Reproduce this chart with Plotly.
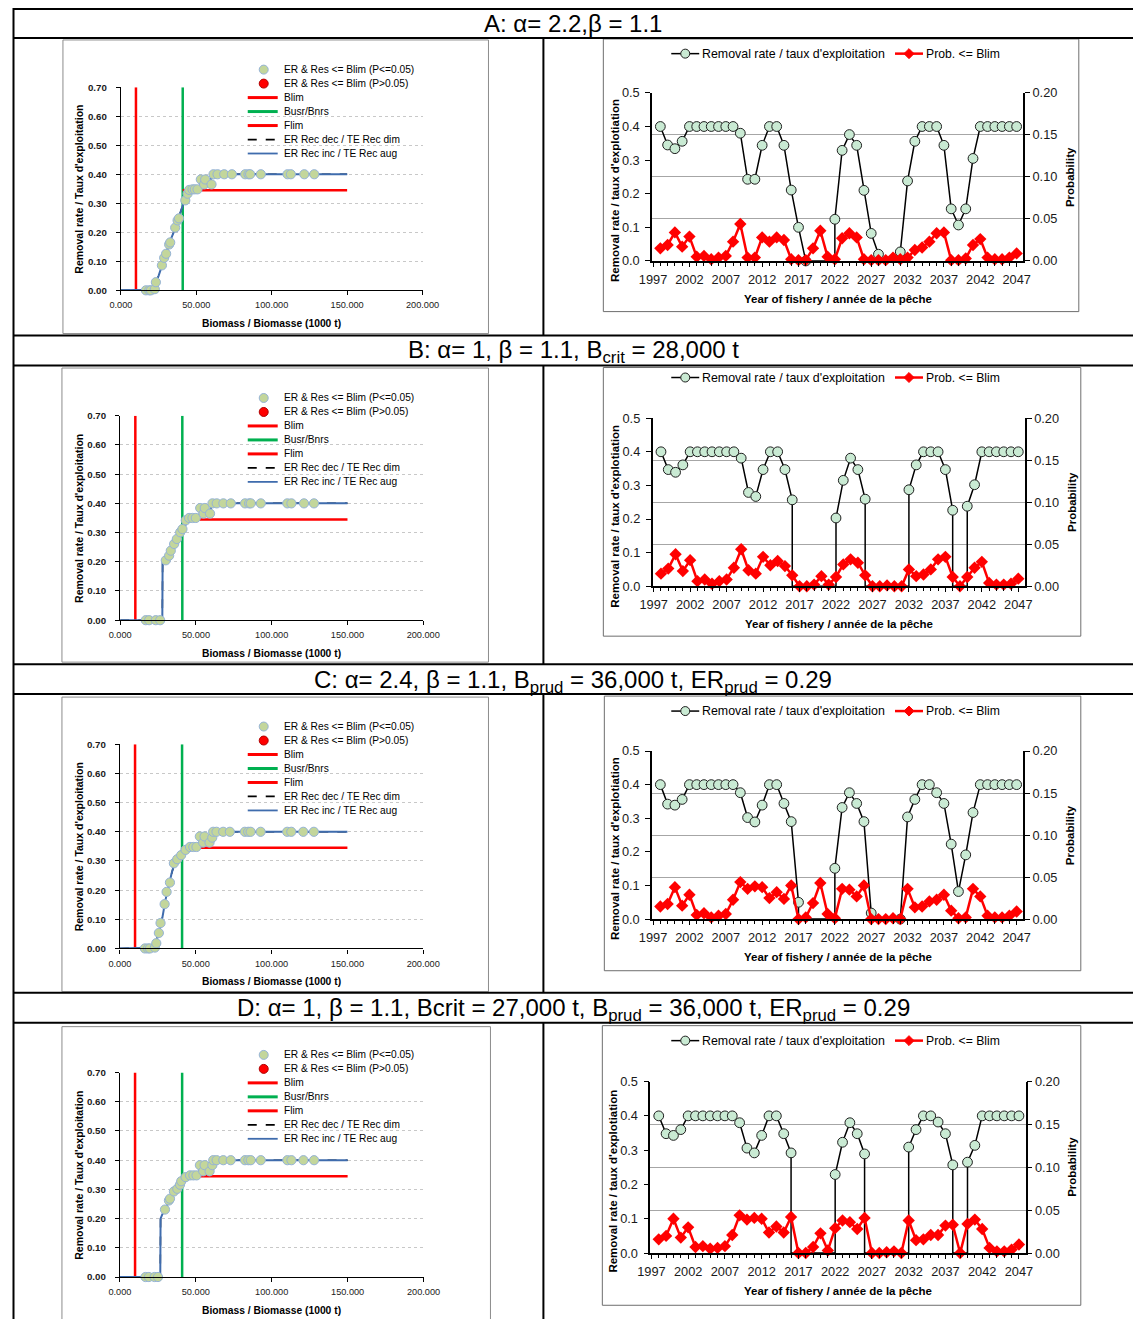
import plotly.graph_objects as go

# Layout positions below are page pixels; they are converted to figure pixels
# through the page origin/scale of the rendered figure.
ORIGIN_X, SCALE_X = 12.0, 0.975
ORIGIN_Y, SCALE_Y = 6.0, 0.99
W, H = 1150, 1326
PAGE_W, PAGE_H = 1133, 1319

# ---------------------------------------------------------------- data
YEARS = list(range(1998, 2048))          # fishery years shown in the time series

BLIM = 10.0          # limit reference point (1000 t)
BUSR = 41.0          # upper stock reference (1000 t)
FLIM = 0.345         # limit removal rate
RULE_END = 150.0     # biomass where the rule lines stop (1000 t)

# Harvest control rule curves: biomass (1000 t) -> removal rate
hcr_a_b = [0, 17, 19, 21, 23, 25, 27, 29, 31, 33, 35, 37, 39, 41, 43, 45, 47, 52, 53, 56, 57, 59, 60.5, 150]
hcr_a_er = [0, 0, 0.002, 0.008, 0.025, 0.05, 0.083, 0.115, 0.145, 0.175, 0.2, 0.232, 0.262, 0.292, 0.318,
            0.338, 0.348, 0.35, 0.382, 0.382, 0.366, 0.366, 0.40, 0.40]
hcr_b_b = [0, 27.8, 28.0, 30, 32, 34, 36, 38, 40, 42, 44, 46, 48, 52, 53, 56, 57, 59, 61, 150]
hcr_b_er = [0, 0, 0.197, 0.205, 0.222, 0.242, 0.262, 0.28, 0.298, 0.318, 0.333, 0.344, 0.348, 0.35, 0.382,
            0.382, 0.366, 0.37, 0.40, 0.40]
hcr_c_b = [0, 16, 18, 20, 22, 24, 26, 28, 30, 32, 34, 36, 38, 40, 42, 44, 46, 48, 52, 53, 56, 57, 59, 61, 150]
hcr_c_er = [0, 0, 0.002, 0.006, 0.015, 0.025, 0.058, 0.105, 0.165, 0.215, 0.255, 0.292, 0.306, 0.318, 0.33,
            0.34, 0.346, 0.348, 0.35, 0.382, 0.382, 0.366, 0.372, 0.40, 0.40]
hcr_d_b = [0, 26.6, 26.8, 28, 30, 32, 34, 36, 38, 40, 42, 44, 46, 48, 52, 53, 56, 57, 59, 61, 150]
hcr_d_er = [0, 0, 0.20, 0.215, 0.232, 0.258, 0.28, 0.295, 0.305, 0.318, 0.328, 0.338, 0.344, 0.348, 0.35,
            0.382, 0.382, 0.366, 0.38, 0.40, 0.40]

# Projected (biomass, removal rate) pairs
pts_a_b = [16.6, 18.8, 19.9, 22.5, 23.2, 27.2, 28.7, 30.0, 32.0, 32.7, 36.0, 37.6, 38.5, 42.7, 44.2, 45.3,
           47.5, 49.0, 50.8, 53.0, 55.2, 55.9, 60.1, 61.4, 64.1, 68.5, 73.6, 82.4, 84.6, 85.7, 92.8, 110.5,
           112.7, 121.6, 128.2]
pts_a_er = [0.0, 0.0, 0.0, 0.004, 0.028, 0.086, 0.112, 0.126, 0.158, 0.165, 0.216, 0.241, 0.248, 0.31, 0.333,
            0.346, 0.348, 0.348, 0.348, 0.382, 0.365, 0.382, 0.365, 0.40, 0.40, 0.40, 0.40, 0.40, 0.40, 0.40,
            0.40, 0.40, 0.40, 0.40, 0.40]
pts_b_b = [16.9, 19.1, 23.5, 26.4, 30.1, 32.3, 33.4, 35.6, 37.4, 39.6, 41.1, 43.3, 45.5, 47.7, 49.9, 52.8,
           55.0, 55.8, 59.3, 60.9, 63.7, 68.1, 73.0, 82.4, 85.1, 86.2, 92.8, 110.3, 113.0, 121.3, 127.9]
pts_b_er = [0.0, 0.0, 0.0, 0.0, 0.205, 0.221, 0.238, 0.261, 0.278, 0.301, 0.312, 0.342, 0.35, 0.35, 0.35,
            0.384, 0.365, 0.384, 0.365, 0.40, 0.40, 0.40, 0.40, 0.40, 0.40, 0.40, 0.40, 0.40, 0.40, 0.40, 0.40]
pts_c_b = [16.5, 18.5, 19.8, 23.1, 24.0, 25.7, 26.8, 29.5, 30.8, 33.0, 35.6, 37.8, 40.4, 43.3, 46.2, 48.4,
           50.5, 52.7, 54.9, 55.8, 59.1, 60.9, 61.5, 63.7, 68.1, 72.5, 82.4, 84.6, 86.2, 92.8, 110.3, 113.0,
           120.9, 127.9]
pts_c_er = [0.0, 0.0, 0.0, 0.003, 0.018, 0.053, 0.087, 0.152, 0.194, 0.226, 0.292, 0.306, 0.32, 0.338, 0.348,
            0.348, 0.348, 0.384, 0.363, 0.384, 0.363, 0.38, 0.40, 0.40, 0.40, 0.40, 0.40, 0.40, 0.40, 0.40,
            0.40, 0.40, 0.40, 0.40]
pts_d_b = [16.9, 19.1, 22.9, 25.1, 29.7, 32.3, 33.0, 35.6, 37.8, 39.6, 40.4, 43.3, 46.2, 48.4, 50.5, 52.7,
           54.9, 55.8, 59.1, 60.9, 61.5, 63.7, 68.1, 73.0, 82.4, 84.6, 86.2, 92.8, 110.3, 113.0, 120.9, 127.9]
pts_d_er = [0.0, 0.0, 0.0, 0.0, 0.231, 0.262, 0.268, 0.293, 0.302, 0.316, 0.328, 0.342, 0.348, 0.348, 0.348,
            0.383, 0.362, 0.383, 0.362, 0.383, 0.40, 0.40, 0.40, 0.40, 0.40, 0.40, 0.40, 0.40, 0.40, 0.40,
            0.40, 0.40]

# Removal rate by year (None = no removals that year)
er_a = [0.40, 0.345, 0.334, 0.356, 0.40, 0.40, 0.40, 0.40, 0.40, 0.40, 0.40,
        0.38, 0.243, 0.243, 0.344, 0.40, 0.40, 0.344, 0.211, 0.10, 0.0,
        None, None, None,
        0.124, 0.329, 0.376, 0.344, 0.21, 0.082, 0.02,
        None, None,
        0.027, 0.238, 0.356, 0.40, 0.40, 0.40, 0.344, 0.155, 0.107, 0.155, 0.305,
        0.40, 0.40, 0.40, 0.40, 0.40, 0.40]
er_b = [0.40, 0.347, 0.339, 0.361, 0.40, 0.40, 0.40, 0.40, 0.40, 0.40, 0.40,
        0.381, 0.279, 0.267, 0.347, 0.40, 0.40, 0.347, 0.257,
        None, None, None, None, None,
        0.203, 0.315, 0.381, 0.347, 0.259,
        None, None, None, None, None,
        0.287, 0.361, 0.40, 0.40, 0.40, 0.347, 0.226,
        None,
        0.238, 0.302, 0.40, 0.40, 0.40, 0.40, 0.40, 0.40]
er_c = [0.40, 0.342, 0.339, 0.356, 0.40, 0.40, 0.40, 0.40, 0.40, 0.40, 0.40,
        0.376, 0.302, 0.289, 0.339, 0.40, 0.40, 0.344, 0.290, 0.05,
        None, None, None, None,
        0.151, 0.332, 0.376, 0.344, 0.290, 0.018,
        None, None, None,
        0.0, 0.304, 0.356, 0.40, 0.40, 0.376, 0.344, 0.223, 0.082, 0.191, 0.317,
        0.40, 0.40, 0.40, 0.40, 0.40, 0.40]
er_d = [0.40, 0.348, 0.343, 0.360, 0.40, 0.40, 0.40, 0.40, 0.40, 0.40, 0.40,
        0.380, 0.306, 0.292, 0.343, 0.40, 0.40, 0.348, 0.292,
        None, None, None, None, None,
        0.229, 0.323, 0.380, 0.348, 0.289,
        None, None, None, None, None,
        0.309, 0.360, 0.40, 0.40, 0.382, 0.348, 0.257,
        None,
        0.265, 0.314, 0.40, 0.40, 0.40, 0.40, 0.40, 0.40]

# Probability of biomass <= Blim by year
prob_a = [0.015, 0.019, 0.034, 0.017, 0.029, 0.005, 0.006, 0.002, 0.004, 0.006,
          0.023, 0.044, 0.004, 0.004, 0.028, 0.023, 0.028, 0.025, 0.002, 0.001,
          0.001, 0.015, 0.036, 0.005, 0.002, 0.027, 0.033, 0.028, 0.002, 0.001,
          0.001, 0.001, 0.004, 0.002, 0.004, 0.013, 0.016, 0.023, 0.033, 0.034,
          0.001, 0.001, 0.003, 0.019, 0.026, 0.004, 0.002, 0.002, 0.004, 0.009]
prob_b = [0.015, 0.021, 0.038, 0.018, 0.031, 0.006, 0.008, 0.003, 0.006, 0.008,
          0.022, 0.044, 0.019, 0.015, 0.035, 0.025, 0.030, 0.024, 0.013, 0.0,
          0.0, 0.002, 0.012, 0.002, 0.011, 0.026, 0.032, 0.028, 0.013, 0.0,
          0.0, 0.001, 0.0, 0.0, 0.020, 0.012, 0.014, 0.020, 0.032, 0.035,
          0.011, 0.0, 0.011, 0.022, 0.029, 0.004, 0.002, 0.002, 0.003, 0.009]
prob_c = [0.015, 0.018, 0.038, 0.016, 0.029, 0.005, 0.007, 0.002, 0.004, 0.006,
          0.023, 0.044, 0.036, 0.039, 0.038, 0.025, 0.032, 0.024, 0.040, 0.0,
          0.002, 0.019, 0.043, 0.006, 0.001, 0.036, 0.035, 0.027, 0.040, 0.0,
          0.0, 0.0, 0.001, 0.0, 0.036, 0.014, 0.015, 0.021, 0.023, 0.029,
          0.010, 0.001, 0.002, 0.036, 0.027, 0.004, 0.002, 0.002, 0.004, 0.009]
prob_d = [0.016, 0.020, 0.040, 0.018, 0.030, 0.007, 0.008, 0.005, 0.006, 0.008,
          0.021, 0.044, 0.039, 0.041, 0.040, 0.024, 0.031, 0.024, 0.042, 0.0,
          0.0, 0.007, 0.023, 0.003, 0.029, 0.038, 0.036, 0.028, 0.041, 0.0,
          0.0, 0.001, 0.002, 0.0, 0.038, 0.015, 0.016, 0.021, 0.021, 0.032,
          0.033, 0.0, 0.034, 0.039, 0.028, 0.006, 0.002, 0.002, 0.004, 0.010]

scenario_titles = [
    "A: α= 2.2,β = 1.1",
    "B: α= 1, β = 1.1, B<sub>crit</sub> = 28,000 t",
    "C: α= 2.4, β = 1.1, B<sub>prud</sub> = 36,000 t, ER<sub>prud</sub> = 0.29",
    "D: α= 1, β = 1.1, Bcrit = 27,000 t, B<sub>prud</sub> = 36,000 t, ER<sub>prud</sub> = 0.29",
]

# ---------------------------------------------------------------- styling
FONT = "Liberation Sans, Arial, sans-serif"
RED = "#ff0000"
GREEN_REF = "#00b050"
BLUE = "#3f6cad"
PT_FILL = "#c3d69b"
PT_EDGE = "#95b3d7"
ER_FILL = "#c9ead3"

# page layout (page pixels): header centres, chart frames and plot areas
HEADER_Y = [22, 350, 680, 1009]
LEFT_PLOT = [(120, 422, 85.3, 288.7), (119.3, 422.7, 414.3, 619), (119, 422.7, 743.3, 947.7),
             (119, 423, 1072, 1276.7)]
LEFT_BOX = [(62, 488, 38, 332), (61, 488, 366.5, 661), (61, 488, 696, 991), (61, 490, 1026, 1340)]
LEFT_LEG_Y = [67.7, 396.5, 725.5, 1054.3]
RIGHT_PLOT = [(651.7, 1023.3, 91, 259.3), (652.3, 1025, 416.7, 585), (651.7, 1023.3, 750, 918.3),
              (650, 1025.7, 1081, 1252.7)]
RIGHT_BOX = [(603, 1079, 37, 310), (603, 1081, 366, 635), (604, 1081, 695, 970), (602, 1081, 1025, 1305)]
RIGHT_LEG_Y = [51.7, 376, 710, 1040]


def fx(p):
    return ((p - ORIGIN_X) / SCALE_X) / W


def fy(p):
    return 1 - ((p - ORIGIN_Y) / SCALE_Y) / H


def aref(kind, n):
    return kind if n == 1 else f"{kind}{n}"


def akey(kind, n):
    return f"{kind}axis" if n == 1 else f"{kind}axis{n}"


def er_line(years, vals):
    """Path of the removal-rate line: drops to the axis where removals stop."""
    xs, ys = [], []
    last = None
    for yr, v in zip(years, vals):
        if v is None:
            if last is not None:
                xs.append(last)
                ys.append(0.0)
            last = None
            continue
        if last is None and xs:
            xs.append(yr)
            ys.append(0.0)
        xs.append(yr)
        ys.append(v)
        last = yr
    return xs, ys


fig = go.Figure()
shapes, annotations, axes = [], [], {}


def line_shape(x0, y0, x1, y1, color="black", width=1, dash="solid"):
    shapes.append(dict(type="line", xref="paper", yref="paper", x0=fx(x0), y0=fy(y0), x1=fx(x1), y1=fy(y1),
                       line=dict(color=color, width=width, dash=dash)))


def rect_shape(x0, y0, x1, y1, color="#8c8c8c", width=1):
    shapes.append(dict(type="rect", xref="paper", yref="paper", x0=fx(x0), y0=fy(y1), x1=fx(x1), y1=fy(y0),
                       line=dict(color=color, width=width), fillcolor="rgba(0,0,0,0)", layer="below"))


def circle_shape(cx, cy, r, fill, edge, width=1):
    shapes.append(dict(type="circle", xref="paper", yref="paper", x0=fx(cx - r), x1=fx(cx + r),
                       y0=fy(cy + r), y1=fy(cy - r), fillcolor=fill, line=dict(color=edge, width=width)))


def diamond_shape(cx, cy, r, fill):
    path = (f"M {fx(cx - r)},{fy(cy)} L {fx(cx)},{fy(cy - r)} L {fx(cx + r)},{fy(cy)} "
            f"L {fx(cx)},{fy(cy + r)} Z")
    shapes.append(dict(type="path", xref="paper", yref="paper", path=path, fillcolor=fill,
                       line=dict(color=fill, width=1)))


def text(x, y, s, size, bold=False, anchor="center", angle=0, family=FONT):
    annotations.append(dict(x=fx(x), y=fy(y), xref="paper", yref="paper", text=s, showarrow=False,
                            xanchor=anchor, yanchor="middle", textangle=angle,
                            font=dict(family=family, size=size, color="black",
                                      weight="bold" if bold else "normal")))


# ---------------------------------------------------------------- table rules
for yy in [7, 36, 334, 364, 663, 693, 992, 1022]:
    line_shape(12.5, yy, PAGE_W + 2, yy, width=2)
line_shape(12.5, 6, 12.5, PAGE_H + 10, width=2)
for top, bot in [(36, 334), (364, 663), (693, 992), (1022, PAGE_H + 10)]:
    line_shape(543, top, 543, bot, width=2)
for title, hy in zip(scenario_titles, HEADER_Y):
    text(573, hy, title, 24)


# ---------------------------------------------------------------- left: removal rate vs biomass
def left_chart(i, curve_b, curve_er, p_b, p_er):
    n = i + 1
    L, R, T, B = LEFT_PLOT[i]
    xr, yr = aref("x", n), aref("y", n)
    common = dict(xaxis=xr, yaxis=yr, showlegend=False, hoverinfo="skip")
    fig.add_trace(go.Scatter(x=[BLIM, BLIM], y=[0, 0.7], mode="lines", line=dict(color=RED, width=2.5), **common))
    fig.add_trace(go.Scatter(x=[BUSR, BUSR], y=[0, 0.7], mode="lines", line=dict(color=GREEN_REF, width=2.5),
                             **common))
    fig.add_trace(go.Scatter(x=[BUSR, RULE_END], y=[FLIM, FLIM], mode="lines", line=dict(color=RED, width=2.5),
                             **common))
    fig.add_trace(go.Scatter(x=curve_b, y=curve_er, mode="lines",
                             line=dict(color="black", width=1.5, dash="dash"), **common))
    fig.add_trace(go.Scatter(x=curve_b, y=curve_er, mode="lines", line=dict(color=BLUE, width=2), **common))
    fig.add_trace(go.Scatter(x=p_b, y=p_er, mode="markers", cliponaxis=False,
                             marker=dict(size=9.2, color=PT_FILL, line=dict(color=PT_EDGE, width=1)), **common))

    axes[akey("x", n)] = dict(domain=[fx(L), fx(R)], anchor=yr, range=[0, 200], tickmode="linear", tick0=0,
                              dtick=50, tickformat=".3f", showline=True, linecolor="black", linewidth=1.2,
                              ticks="outside", ticklen=4, tickcolor="black", showgrid=False, zeroline=False,
                              ticklabelstandoff=2, tickfont=dict(family=FONT, size=9.2, color="#1a1a1a"))
    axes[akey("y", n)] = dict(domain=[fy(B), fy(T)], anchor=xr, range=[0, 0.7], tickmode="linear", tick0=0,
                              dtick=0.1, tickformat=".2f", showline=True, linecolor="black", linewidth=1.2,
                              ticks="outside", ticklen=4, tickcolor="black", showgrid=True,
                              gridcolor="#c8c8c8", griddash="dot", gridwidth=1, zeroline=False,
                              ticklabelstandoff=7,
                              tickfont=dict(family=FONT, size=9.7, color="#1a1a1a", weight="bold"))

    bx0, bx1, by0, by1 = LEFT_BOX[i]
    rect_shape(bx0, by0, bx1, by1)

    text(78, (T + B) / 2, "Removal rate / Taux d'exploitation", 10.5, bold=True, angle=-90)
    text((L + R) / 2, B + 33.5, "Biomass / Biomasse (1000 t)", 10.3, bold=True)

    # legend
    ly = LEFT_LEG_Y[i]
    step = 14
    circle_shape(263, ly, 4.5, PT_FILL, PT_EDGE)
    text(281, ly, "ER &amp; Res &lt;= Blim (P&lt;=0.05)", 10.2, anchor="left")
    circle_shape(263, ly + step, 4.5, RED, "#b00000")
    text(281, ly + step, "ER &amp; Res &lt;= Blim (P&gt;0.05)", 10.2, anchor="left")
    legend_lines = [(RED, "solid", 3, "Blim"), (GREEN_REF, "solid", 3, "Busr/Bnrs"), (RED, "solid", 3, "Flim"),
                    ("black", "dash", 1.8, "ER Rec dec / TE Rec dim"),
                    (BLUE, "solid", 1.8, "ER Rec inc / TE Rec aug")]
    for k, (col, dash, wd, lab) in enumerate(legend_lines):
        yy = ly + step * (k + 2)
        line_shape(247, yy, 277, yy, color=col, width=wd, dash=dash)
        text(281, yy, lab, 10.2, anchor="left")


# ---------------------------------------------------------------- right: time series
def right_chart(i, er, prob):
    n = i + 5
    n2 = i + 9
    L, R, T, B = RIGHT_PLOT[i]
    xr, yr, yr2 = aref("x", n), aref("y", n), aref("y", n2)
    lx, ly = er_line(YEARS, er)
    fig.add_trace(go.Scatter(x=lx, y=ly, mode="lines", line=dict(color="black", width=1.5), xaxis=xr, yaxis=yr,
                             showlegend=False, hoverinfo="skip", cliponaxis=False))
    mx = [yv for yv, v in zip(YEARS, er) if v is not None]
    my = [v for v in er if v is not None]
    fig.add_trace(go.Scatter(x=mx, y=my, mode="markers", cliponaxis=False,
                             marker=dict(size=9.8, color=ER_FILL, line=dict(color="#1f1f1f", width=1)),
                             xaxis=xr, yaxis=yr, showlegend=False, hoverinfo="skip"))
    fig.add_trace(go.Scatter(x=YEARS, y=prob, mode="lines+markers", cliponaxis=False,
                             line=dict(color=RED, width=2.5),
                             marker=dict(symbol="diamond", size=9.5, color=RED),
                             xaxis=xr, yaxis=yr2, showlegend=False, hoverinfo="skip"))

    tickfont = dict(family=FONT, size=12.8, color="#1a1a1a")
    axes[akey("x", n)] = dict(domain=[fx(L), fx(R)], anchor=yr, range=[1996.85, 2047.9], tickmode="linear",
                              tick0=1997, dtick=5, showline=True, linecolor="black", linewidth=1.5,
                              ticks="outside", ticklen=4, tickcolor="black", showgrid=False, zeroline=False,
                              minor=dict(tick0=1997, dtick=1, ticks="outside", ticklen=3, tickcolor="black",
                                         showgrid=False),
                              ticklabelstandoff=2, tickfont=tickfont)
    axes[akey("y", n)] = dict(domain=[fy(B), fy(T)], anchor=xr, range=[0, 0.5], tickmode="linear", tick0=0,
                              dtick=0.1, tickformat=".1f", showline=True, linecolor="black", linewidth=1.5,
                              ticks="outside", ticklen=5, tickcolor="black", showgrid=False, zeroline=False,
                              ticklabelstandoff=3, tickfont=tickfont)
    axes[akey("y", n2)] = dict(overlaying=yr, anchor=xr, side="right", range=[0, 0.2], tickmode="linear",
                               tick0=0, dtick=0.05, tickformat=".2f", showline=True, linecolor="black",
                               linewidth=1.5, ticks="outside", ticklen=5, tickcolor="black", showgrid=True,
                               gridcolor="#a6a6a6", gridwidth=1, zeroline=False, ticklabelstandoff=0,
                               tickfont=tickfont)

    bx0, bx1, by0, by1 = RIGHT_BOX[i]
    rect_shape(bx0, by0, bx1, by1, color="#6e6e6e")

    text(L - 37, (T + B) / 2 + 14, "Removal rate / taux d'explotiation", 11.5, bold=True, angle=-90)
    text(R + 47, (T + B) / 2, "Probability", 11.5, bold=True, angle=-90)
    text((L + R) / 2, B + 38, "Year of fishery / année de la pêche", 11.5, bold=True)

    # legend
    yy = RIGHT_LEG_Y[i]
    line_shape(671, yy, 699, yy, color="black", width=1.5)
    circle_shape(685, yy, 4.5, ER_FILL, "#1f1f1f")
    text(700, yy, "Removal rate / taux d'exploitation", 12.4, anchor="left")
    line_shape(895, yy, 923, yy, color=RED, width=2.5)
    diamond_shape(909, yy, 5, RED)
    text(924, yy, "Prob. &lt;= Blim", 12.2, anchor="left")


curves = [(hcr_a_b, hcr_a_er), (hcr_b_b, hcr_b_er), (hcr_c_b, hcr_c_er), (hcr_d_b, hcr_d_er)]
points = [(pts_a_b, pts_a_er), (pts_b_b, pts_b_er), (pts_c_b, pts_c_er), (pts_d_b, pts_d_er)]
series = [(er_a, prob_a), (er_b, prob_b), (er_c, prob_c), (er_d, prob_d)]

for i in range(4):
    left_chart(i, *curves[i], *points[i])
    right_chart(i, *series[i])

fig.update_layout(width=W, height=H, margin=dict(l=0, r=0, t=0, b=0, pad=0), autosize=False,
                  paper_bgcolor="white", plot_bgcolor="rgba(0,0,0,0)", showlegend=False,
                  font=dict(family=FONT, color="black"), shapes=shapes, annotations=annotations, **axes)

fig.write_html("out.html", config={"displayModeBar": False})
